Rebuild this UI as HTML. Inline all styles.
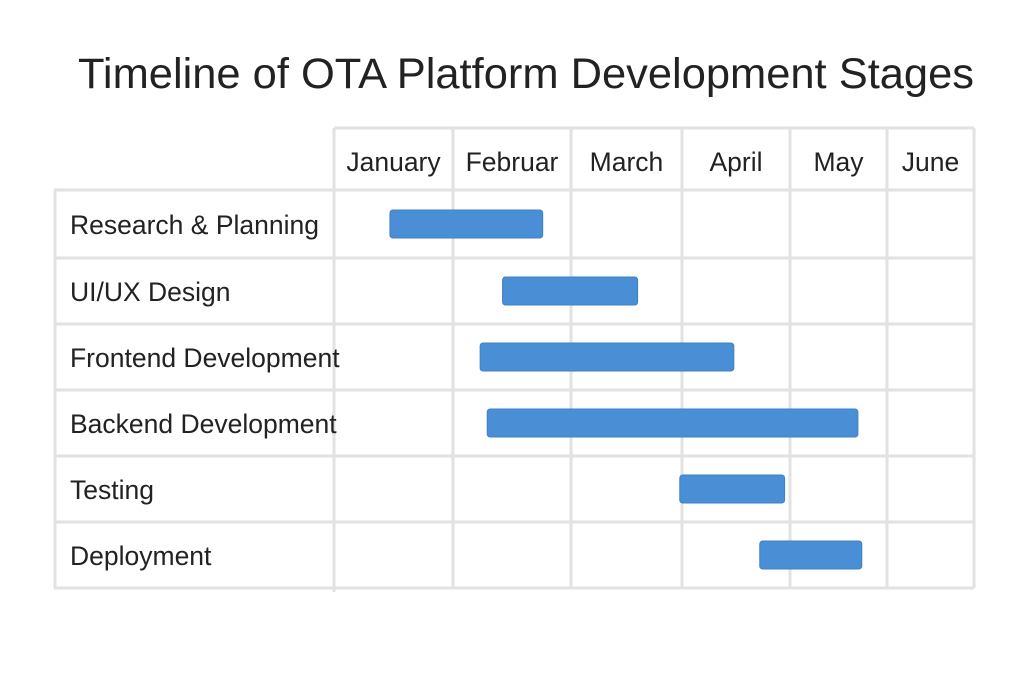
<!DOCTYPE html>
<html><head><meta charset="utf-8"><style>
body{margin:0;background:#fff;width:1024px;height:683px;overflow:hidden;font-family:"Liberation Sans",sans-serif;}
</style></head><body>
<svg width="1024" height="683">
<text x="526" y="88" text-anchor="middle" font-size="43" fill="#222" textLength="896" lengthAdjust="spacingAndGlyphs">Timeline of OTA Platform Development Stages</text>
<g id="grid"></g><g id="bars"></g><g id="labels"></g>
</svg>
<script>
const months=["January","Februar","March","April","May","June"];
const tasks=["Research & Planning","UI/UX Design","Frontend Development","Backend Development","Testing","Deployment"];
const starts=[0.47,1.42,1.23,1.29,2.98,3.72];
const ends=[1.76,2.60,3.48,4.70,3.95,4.74];
const colX=[334,453,571,682,790,887,974];
const rowY=[190,258,324,390,456,522,588];
const ns="http://www.w3.org/2000/svg";
function xOf(v){const i=Math.min(Math.floor(v),5);return colX[i]+(v-i)*(colX[i+1]-colX[i]);}
function mk(tag,attrs,parent,text){const e=document.createElementNS(ns,tag);for(const k in attrs)e.setAttribute(k,attrs[k]);if(text!==undefined)e.textContent=text;parent.appendChild(e);return e;}
const grid=document.getElementById('grid'),bars=document.getElementById('bars'),labels=document.getElementById('labels');
const st={stroke:"#e2e2e2","stroke-width":3};
let l=mk('line',Object.assign({x1:334,y1:128,x2:974,y2:128},st),grid);


rowY.forEach((y,i)=>{const g=mk('line',Object.assign({x1:54,y1:y,x2:974,y2:y},st),grid);

});
l=mk('line',Object.assign({x1:55,y1:190,x2:55,y2:588},st),grid);


colX.forEach((x,i)=>{const g=mk('line',Object.assign({x1:x,y1:128,x2:x,y2:i==0?592:588},st),grid);

});
months.forEach((m,i)=>{const t=mk('text',{x:(colX[i]+colX[i+1])/2,y:171,"text-anchor":"middle","font-size":26.5,fill:"#222"},labels,m);

});
tasks.forEach((n,i)=>{const cy=(rowY[i]+rowY[i+1])/2;
const t=mk('text',{x:70,y:cy+10,"font-size":26.5,fill:"#222"},labels,n);


const x1=xOf(starts[i]),x2=xOf(ends[i]);
const b=mk('rect',{x:x1,y:cy-14,width:x2-x1,height:28,rx:3,fill:"#4a8fd6",stroke:"#3f80c6","stroke-width":1},bars);

});
</script>
</body></html>
